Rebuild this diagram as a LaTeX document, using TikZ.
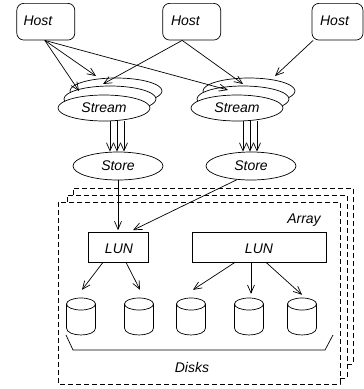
\documentclass[tikz,border=0pt]{standalone}
\usepackage{fontspec}
\setmainfont{Liberation Sans}
\usetikzlibrary{arrows.meta,shapes.geometric,calc}
\begin{document}
\begin{tikzpicture}[x=1pt,y=-1pt,
  ln/.style={line width=0.7pt},
  arr/.style={ln,-{Straight Barb[length=8pt,width=7pt]}},
  hostbox/.style={draw,ln,rounded corners=7pt,minimum width=58pt,minimum height=36.7pt,inner sep=0},
  ell/.style={draw,ln,ellipse,fill=white,inner sep=0,font=\fontsize{14}{16}\selectfont\itshape},
  streamell/.style={ell,minimum width=92pt,minimum height=26pt},
  storeell/.style={ell,minimum width=90pt,minimum height=28pt},
  lunbox/.style={draw,ln,minimum height=30pt,inner sep=0},
  dsh/.style={ln,dash pattern=on 5pt off 3pt},
  lbl/.style={inner sep=0,font=\fontsize{14}{16}\selectfont\itshape},
  diskbox/.style={inner sep=0,minimum width=29pt,minimum height=37pt}
]
\useasboundingbox (0,0) rectangle (364,389);

% hosts
\node[hostbox] (h1) at (45.8,21.7) {};
\node[lbl] (t1) at (38,20.5) {Host};
\node[hostbox] (h2) at (191.7,21.7) {};
\node[lbl] (t2) at (185.5,20.5) {Host};
\node[hostbox,minimum width=51pt] (h3) at (337.5,21.7) {};
\node[lbl] (t3) at (334.5,20.5) {Host};

% streams (stacked)
\node[streamell] (s1c) at (116,91) {};
\node[streamell] (s1b) at (110,99) {};
\node[streamell] (s1) at (104,108) {Stream};
\node[streamell] (s2c) at (249,91) {};
\node[streamell] (s2b) at (243,99) {};
\node[streamell] (s2) at (237,108) {Stream};

% host -> stream arrows
\draw[arr] ($(h1.south)+(-1,0)$) -- ($(s1)+(-25,-17)$);
\draw[arr] ($(h1.south)+(-1,0)$) -- ($(s1)+(-8,-32)$);
\draw[arr] ($(h1.south)+(-1,0)$) -- ($(s2)+(-9,-18)$);
\draw[arr] ($(h2.south)+(-9.5,0)$) -- ($(s1)+(-1,-24)$);
\draw[arr] ($(h2.south)+(-9.5,0)$) -- ($(s2)+(6,-24)$);
\draw[arr] ($(h3.south west)+(1.5,0)$) -- ($(s2)+(38,-32)$);

% stores
\node[storeell] (st1) at (118,166) {Store};
\node[storeell] (st2) at (251,166) {Store};

% stream -> store
\foreach \dx/\ex in {6/-8,13/-1,20/6}{
  \draw[arr] ($(s1.south)+(\dx,0)$) -- ($(st1.north)+(\ex,0)$);
}
\foreach \dx/\ex in {6/-8,13/-1,20/6}{
  \draw[arr] ($(s2.south)+(\dx,0)$) -- ($(st2.north)+(\ex,0)$);
}

% array frames
\draw[dsh] (73,195) -- (73,188) -- (353,188) -- (353,364) -- (347,364);
\draw[dsh] (67,202) -- (67,195) -- (347,195) -- (347,378) -- (340,378);
\draw[dsh] (58,202) rectangle (340,384);
\node[lbl,anchor=base] (arr) at (304,223.5) {Array};

% LUNs
\node[lunbox,minimum width=60pt] (l1) at (118,247) {};
\node[lbl] (lt1) at (119,249) {LUN};
\node[lunbox,minimum width=134pt] (l2) at (259,247) {};
\node[lbl] (lt2) at (259,249) {LUN};

% store -> LUN
\draw[arr] (st1.south) -- ($(l1.north)+(0,-1.5)$);
\draw[arr] ($(st2.south)+(-14,-0.7)$) -- ($(l1.north)+(15,-1.5)$);

% disks
\foreach \i/\c in {1/81,2/139,3/191,4/249,5/302}{
  \node[diskbox] (d\i) at (\c,316.5) {};
  \draw[ln] (\c,304) ellipse [x radius=14.5, y radius=6];
  \draw[ln] (\c-14.5,304) -- (\c-14.5,328)
     .. controls (\c-14.5,337.3) and (\c+14.5,337.3) .. (\c+14.5,328) -- (\c+14.5,304);
}

% LUN -> disks
\draw[arr] ($(l1.south)+(-15,0)$) -- ($(d1.north)+(1,-8)$);
\draw[arr] ($(l1.south)+(8,0)$) -- ($(d2.north)+(1,-8)$);
\draw[arr] ($(l2.south)+(-24,0)$) -- ($(d3.north)+(2,-8)$);
\draw[arr] ($(l2.south)+(-8,0)$) -- ($(d4.north)+(2,-4)$);
\draw[arr] ($(l2.south)+(7,0)$) -- ($(d5.north)+(0,-3)$);

% disks bracket
\draw[ln] (66,335) -- (73,350) -- (325,350) -- (333,335);
\node[lbl] (dl) at (192,367) {Disks};
\end{tikzpicture}
\end{document}
